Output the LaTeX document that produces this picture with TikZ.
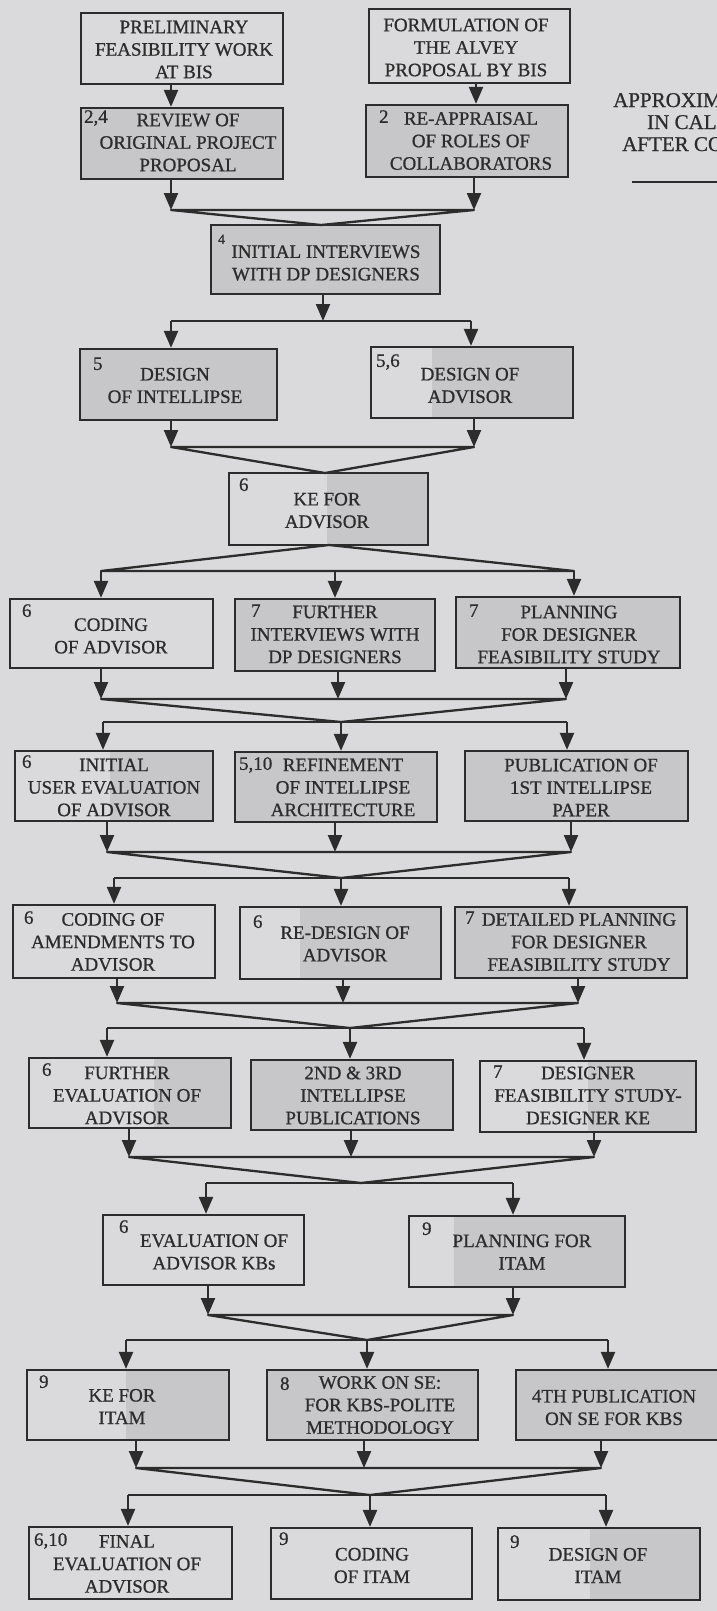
\documentclass[tikz,border=0pt]{standalone}
\usepackage{fontspec}
\setmainfont{Liberation Serif}[FakeBold=0.8]
\usetikzlibrary{arrows.meta,calc}

\definecolor{paper}{RGB}{218,218,220}
\definecolor{stipple}{RGB}{199,199,201}
\definecolor{ink}{RGB}{44,44,44}

\newcommand{\boxfont}{\fontsize{19}{22.5}\selectfont}
\newcommand{\notefont}{\fontsize{21}{22}\selectfont}
\newcommand{\supfont}{\fontsize{14}{14}\selectfont}

\tikzset{
  task/.style={draw=ink, line width=2.3pt, inner sep=0pt, fill=paper},
  shaded from/.style={path picture={\fill[stipple]
      ($(path picture bounding box.south west)!#1!(path picture bounding box.south east)$)
      rectangle (path picture bounding box.north east);}},
  words/.style={inner sep=0pt, align=center, text=ink, font=\boxfont},
  num/.style={anchor=base west, inner sep=0pt, text=ink, font=\boxfont},
  note/.style={anchor=base west, inner sep=0pt, text=ink, font=\notefont},
  flow/.style={draw=ink, line width=2.3pt},
  arr/.style={flow, -{Triangle[width=14pt,length=17pt]}},
  funnel/.style={flow, line join=round},
}

% \taskbox{name}{x1}{y1}{x2}{y2}{fraction of width left unshaded}
\newcommand{\taskbox}[6]{%
  \node[task, minimum width={#4-#2}, minimum height={#5-#3}, shaded from=#6]
    (#1) at ({(#2+#4)/2},{(#3+#5)/2}) {};}

\begin{document}
\begin{tikzpicture}[x=1pt,y=-1pt]
\useasboundingbox (0,0) rectangle (717,1611);
\fill[paper] (0,0) rectangle (717,1611);

% ---------- boxes ----------
\taskbox{prelim}{81}{13}{283}{84}{1}
\taskbox{formul}{369}{9}{570}{83}{1}
\taskbox{review}{81}{108}{283}{179}{0}
\taskbox{reappr}{366}{105}{568}{177}{0}
\taskbox{initial}{211}{225}{440}{294}{0}
\taskbox{desint}{80}{349}{277}{420}{0}
\taskbox{desadv}{371}{347}{573}{418}{0.3}
\taskbox{keadv}{229}{473}{428}{545}{0.49}
\taskbox{codadv}{10}{599}{213}{668}{1}
\taskbox{furint}{235}{599}{435}{671}{0}
\taskbox{planfs}{456}{597}{680}{668}{0}
\taskbox{usereval}{15}{751}{213}{821}{0.48}
\taskbox{refine}{235}{752}{437}{822}{0}
\taskbox{pubfirst}{465}{751}{688}{821}{0}
\taskbox{codamd}{13}{905}{215}{978}{1}
\taskbox{redes}{240}{907}{441}{979}{0.3}
\taskbox{detplan}{455}{907}{687}{978}{0}
\taskbox{fureval}{29}{1058}{231}{1128}{0.62}
\taskbox{pubmid}{251}{1060}{453}{1130}{0}
\taskbox{desfeas}{480}{1061}{696}{1132}{0.5}
\taskbox{evalkb}{103}{1215}{304}{1285}{1}
\taskbox{planitam}{409}{1216}{625}{1287}{0.21}
\taskbox{keitam}{27}{1370}{229}{1440}{0.49}
\taskbox{workse}{267}{1370}{478}{1440}{0}
\taskbox{pubfourth}{516}{1370}{724}{1440}{0}
\taskbox{finaleval}{29}{1527}{232}{1599}{1}
\taskbox{coditam}{271}{1528}{472}{1599}{1}
\taskbox{desitam}{498}{1528}{700}{1600}{0.455}

% ---------- box texts ----------
\node[words] (prelim-t)    at (184,49.5)  {PRELIMINARY\\FEASIBILITY WORK\\AT BIS};
\node[words] (formul-t)    at (466,47.5)  {FORMULATION OF\\THE ALVEY\\PROPOSAL BY BIS};
\node[words] (review-t)    at (188,142.5) {REVIEW OF\\ORIGINAL PROJECT\\PROPOSAL};
\node[words] (reappr-t)    at (471,141)   {RE-APPRAISAL\\OF ROLES OF\\COLLABORATORS};
\node[words] (initial-t)   at (326,263)   {INITIAL INTERVIEWS\\WITH DP DESIGNERS};
\node[words] (desint-t)    at (175,385.5) {DESIGN\\OF INTELLIPSE};
\node[words] (desadv-t)    at (470,385.5) {DESIGN OF\\ADVISOR};
\node[words] (keadv-t)     at (327,510.5) {KE FOR\\ADVISOR};
\node[words] (codadv-t)    at (111,636)   {CODING\\OF ADVISOR};
\node[words] (furint-t)    at (335,634.5) {FURTHER\\INTERVIEWS WITH\\DP DESIGNERS};
\node[words] (planfs-t)    at (569,634.5) {PLANNING\\FOR DESIGNER\\FEASIBILITY STUDY};
\node[words] (usereval-t)  at (114,787.5) {INITIAL\\USER EVALUATION\\OF ADVISOR};
\node[words] (refine-t)    at (343,787.5) {REFINEMENT\\OF INTELLIPSE\\ARCHITECTURE};
\node[words] (pubfirst-t)  at (581,787.5) {PUBLICATION OF\\1ST INTELLIPSE\\PAPER};
\node[words] (codamd-t)    at (113,942)   {CODING OF\\AMENDMENTS TO\\ADVISOR};
\node[words] (redes-t)     at (345,944)   {RE-DESIGN OF\\ADVISOR};
\node[words] (detplan-t)   at (579,942)   {DETAILED PLANNING\\FOR DESIGNER\\FEASIBILITY STUDY};
\node[words] (fureval-t)   at (127,1095.5){FURTHER\\EVALUATION OF\\ADVISOR};
\node[words] (pubmid-t)    at (353,1095.5){2ND \& 3RD\\INTELLIPSE\\PUBLICATIONS};
\node[words] (desfeas-t)   at (588,1095.5){DESIGNER\\FEASIBILITY STUDY-\\DESIGNER KE};
\node[words] (evalkb-t)    at (214,1252)  {EVALUATION OF\\ADVISOR KBs};
\node[words] (planitam-t)  at (522,1252)  {PLANNING FOR\\ITAM};
\node[words] (keitam-t)    at (122,1406.5){KE FOR\\ITAM};
\node[words] (workse-t)    at (380,1405)  {WORK ON SE:\\FOR KBS-POLITE\\METHODOLOGY};
\node[words] (pubfourth-t) at (614,1407.5){4TH PUBLICATION\\ON SE FOR KBS};
\node[words] (finaleval-t) at (127,1564)  {FINAL\\EVALUATION OF\\ADVISOR};
\node[words] (coditam-t)   at (372,1565.5){CODING\\OF ITAM};
\node[words] (desitam-t)   at (598,1565.5){DESIGN OF\\ITAM};

% ---------- chapter numbers ----------
\node[num] (review-n)    at ($(review.north west)+(4,16)$)    {2,4};
\node[num] (reappr-n)    at ($(reappr.north west)+(14,19)$)   {2};
\node[num, font=\supfont] (initial-n) at ($(initial.north west)+(8,20)$) {4};
\node[num] (desint-n)    at ($(desint.north west)+(14,22)$)   {5};
\node[num] (desadv-n)    at ($(desadv.north west)+(6,21)$)    {5,6};
\node[num] (keadv-n)     at ($(keadv.north west)+(11,19)$)    {6};
\node[num] (codadv-n)    at ($(codadv.north west)+(13,19)$)   {6};
\node[num] (furint-n)    at ($(furint.north west)+(17,19)$)   {7};
\node[num] (planfs-n)    at ($(planfs.north west)+(14,21)$)   {7};
\node[num] (usereval-n)  at ($(usereval.north west)+(8,18)$)  {6};
\node[num] (refine-n)    at ($(refine.north west)+(5,19)$)    {5,10};
\node[num] (codamd-n)    at ($(codamd.north west)+(12,20)$)   {6};
\node[num] (redes-n)     at ($(redes.north west)+(14,22)$)    {6};
\node[num] (detplan-n)   at ($(detplan.north west)+(11,18)$)  {7};
\node[num] (fureval-n)   at ($(fureval.north west)+(14,19)$)  {6};
\node[num] (desfeas-n)   at ($(desfeas.north west)+(14,18)$)  {7};
\node[num] (evalkb-n)    at ($(evalkb.north west)+(17,19)$)   {6};
\node[num] (planitam-n)  at ($(planitam.north west)+(14,20)$) {9};
\node[num] (keitam-n)    at ($(keitam.north west)+(13,19)$)   {9};
\node[num] (workse-n)    at ($(workse.north west)+(14,21)$)   {8};
\node[num] (finaleval-n) at ($(finaleval.north west)+(6,20)$) {6,10};
\node[num] (coditam-n)   at ($(coditam.north west)+(9,18)$)   {9};
\node[num] (desitam-n)   at ($(desitam.north west)+(13,21)$)  {9};

% ---------- side note ----------
\node[note] (note-a) at (613,107) {APPROXIM};
\node[note] (note-b) at (647,129) {IN CAL};
\node[note] (note-c) at (622,151) {AFTER CO};
\coordinate (rule-a) at (632,182);
\coordinate (rule-b) at (730,182);
\draw[flow, line width=1.8pt] (rule-a) -- (rule-b);

% ---------- connectors ----------
% top pairs
\coordinate (c0L) at (171,0);
\coordinate (c0R) at (476,0);
\draw[arr] (prelim.south -| c0L) -- (review.north -| c0L);
\draw[arr] (formul.south -| c0R) -- (reappr.north -| c0R);

% merge into initial interviews
\coordinate (j1L) at (171,210);
\coordinate (j1R) at (474,210);
\coordinate (v1)  at (321,225);
\draw[arr] (review.south -| j1L) -- (j1L);
\draw[arr] (reappr.south -| j1R) -- (j1R);
\draw[funnel] (j1L) -- (j1R) -- (v1) -- cycle;

% split into the two designs
\coordinate (j2L) at (171,321);
\coordinate (j2R) at (471,321);
\coordinate (j2M) at (323,321);
\draw[arr] (initial.south -| j2M) -- (j2M);
\draw[flow] (j2L) -- (j2R);
\draw[arr] (j2L) -- (desint.north -| j2L);
\draw[arr] (j2R) -- (desadv.north -| j2R);

% merge into KE for advisor
\coordinate (j3L) at (171,447);
\coordinate (j3R) at (474,447);
\coordinate (v3)  at (325,473);
\draw[arr] (desint.south -| j3L) -- (j3L);
\draw[arr] (desadv.south -| j3R) -- (j3R);
\draw[funnel] (j3L) -- (j3R) -- (v3) -- cycle;

% split from KE for advisor
\coordinate (v4)  at (329,545);
\coordinate (j4L) at (101,571);
\coordinate (j4M) at (335,571);
\coordinate (j4R) at (574,571);
\draw[funnel] (v4) -- (j4L) -- (j4R) -- cycle;
\draw[arr] (j4L) -- (codadv.north -| j4L);
\draw[arr] (j4M) -- (furint.north -| j4M);
\draw[arr] (j4R) -- (planfs.north -| j4R);

% row A -> row B
\coordinate (j5L) at (101,699);
\coordinate (j5M) at (338,699);
\coordinate (j5R) at (566,699);
\coordinate (v5)  at (341,722);
\coordinate (k5L) at (103,722);
\coordinate (k5R) at (567,722);
\draw[arr] (codadv.south -| j5L) -- (j5L);
\draw[arr] (furint.south -| j5M) -- (j5M);
\draw[arr] (planfs.south -| j5R) -- (j5R);
\draw[funnel] (j5L) -- (j5R) -- (v5) -- cycle;
\draw[flow] (k5L) -- (k5R);
\draw[arr] (k5L) -- (usereval.north -| k5L);
\draw[arr] (v5)  -- (refine.north -| v5);
\draw[arr] (k5R) -- (pubfirst.north -| k5R);

% row B -> row C
\coordinate (j6L) at (107,852);
\coordinate (j6M) at (335,852);
\coordinate (j6R) at (571,852);
\coordinate (v6)  at (341,878);
\coordinate (k6L) at (114,878);
\coordinate (k6R) at (569,878);
\draw[arr] (usereval.south -| j6L) -- (j6L);
\draw[arr] (refine.south -| j6M) -- (j6M);
\draw[arr] (pubfirst.south -| j6R) -- (j6R);
\draw[funnel] (j6L) -- (j6R) -- (v6) -- cycle;
\draw[flow] (k6L) -- (k6R);
\draw[arr] (k6L) -- (codamd.north -| k6L);
\draw[arr] (v6)  -- (redes.north -| v6);
\draw[arr] (k6R) -- (detplan.north -| k6R);

% row C -> row D
\coordinate (j7L) at (117,1003);
\coordinate (j7M) at (343,1003);
\coordinate (j7R) at (578,1003);
\coordinate (v7)  at (350,1028);
\coordinate (k7L) at (107,1028);
\coordinate (k7R) at (584,1028);
\draw[arr] (codamd.south -| j7L) -- (j7L);
\draw[arr] (redes.south -| j7M) -- (j7M);
\draw[arr] (detplan.south -| j7R) -- (j7R);
\draw[funnel] (j7L) -- (j7R) -- (v7) -- cycle;
\draw[flow] (k7L) -- (k7R);
\draw[arr] (k7L) -- (fureval.north -| k7L);
\draw[arr] (v7)  -- (pubmid.north -| v7);
\draw[arr] (k7R) -- (desfeas.north -| k7R);

% row D -> row E
\coordinate (j8L) at (129,1157);
\coordinate (j8M) at (351,1157);
\coordinate (j8R) at (594,1157);
\coordinate (v8)  at (361,1183);
\coordinate (k8L) at (206,1183);
\coordinate (k8R) at (513,1183);
\draw[arr] (fureval.south -| j8L) -- (j8L);
\draw[arr] (pubmid.south -| j8M) -- (j8M);
\draw[arr] (desfeas.south -| j8R) -- (j8R);
\draw[funnel] (j8L) -- (j8R) -- (v8) -- cycle;
\draw[flow] (k8L) -- (k8R);
\draw[arr] (k8L) -- (evalkb.north -| k8L);
\draw[arr] (k8R) -- (planitam.north -| k8R);

% row E -> row F
\coordinate (j9L) at (208,1315);
\coordinate (j9R) at (513,1315);
\coordinate (v9)  at (367,1340);
\coordinate (k9L) at (126,1340);
\coordinate (k9R) at (608,1340);
\draw[arr] (evalkb.south -| j9L) -- (j9L);
\draw[arr] (planitam.south -| j9R) -- (j9R);
\draw[funnel] (j9L) -- (j9R) -- (v9) -- cycle;
\draw[flow] (k9L) -- (k9R);
\draw[arr] (k9L) -- (keitam.north -| k9L);
\draw[arr] (v9)  -- (workse.north -| v9);
\draw[arr] (k9R) -- (pubfourth.north -| k9R);

% row F -> row G
\coordinate (j10L) at (136,1468);
\coordinate (j10M) at (364,1468);
\coordinate (j10R) at (601,1468);
\coordinate (v10)  at (370,1495);
\coordinate (k10L) at (128,1495);
\coordinate (k10R) at (606,1495);
\draw[arr] (keitam.south -| j10L) -- (j10L);
\draw[arr] (workse.south -| j10M) -- (j10M);
\draw[arr] (pubfourth.south -| j10R) -- (j10R);
\draw[funnel] (j10L) -- (j10R) -- (v10) -- cycle;
\draw[flow] (k10L) -- (k10R);
\draw[arr] (k10L) -- (finaleval.north -| k10L);
\draw[arr] (v10)  -- (coditam.north -| v10);
\draw[arr] (k10R) -- (desitam.north -| k10R);
\end{tikzpicture}
\end{document}
